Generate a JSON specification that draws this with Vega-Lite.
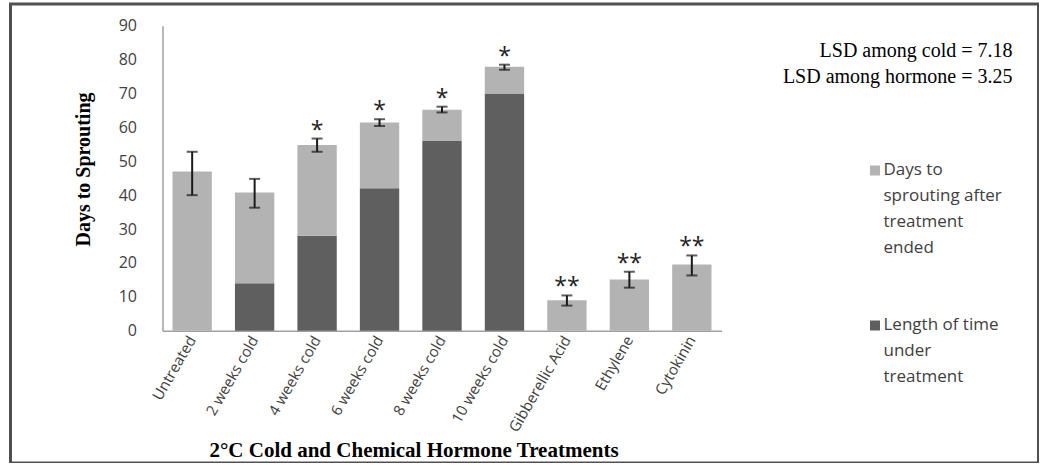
{
  "$schema": "https://vega.github.io/schema/vega-lite/v6.json",
  "width": 1028,
  "height": 459,
  "autosize": {"type": "none"},
  "padding": {"left": 10.5, "top": 4, "right": 0, "bottom": 0},
  "background": "white",
  "config": {
    "view": {"stroke": "#505050", "strokeWidth": 3},
    "axis": {"grid": false}
  },
  "title": {
    "text": ["LSD among cold = 7.18", "LSD among hormone = 3.25"],
    "orient": "top",
    "anchor": "end",
    "frame": "group",
    "align": "right",
    "offset": -83,
    "dx": -26,
    "font": "Liberation Serif",
    "fontSize": 20,
    "fontWeight": "normal",
    "color": "black",
    "lineHeight": 26
  },
  "datasets": {
    "bars": [
      {"treatment": "Untreated", "component": "Days to sprouting after treatment ended", "days": 47},
      {"treatment": "2 weeks cold", "component": "Length of time under treatment", "days": 14},
      {"treatment": "2 weeks cold", "component": "Days to sprouting after treatment ended", "days": 26.8},
      {"treatment": "4 weeks cold", "component": "Length of time under treatment", "days": 28},
      {"treatment": "4 weeks cold", "component": "Days to sprouting after treatment ended", "days": 26.8},
      {"treatment": "6 weeks cold", "component": "Length of time under treatment", "days": 42},
      {"treatment": "6 weeks cold", "component": "Days to sprouting after treatment ended", "days": 19.4},
      {"treatment": "8 weeks cold", "component": "Length of time under treatment", "days": 56},
      {"treatment": "8 weeks cold", "component": "Days to sprouting after treatment ended", "days": 9.2},
      {"treatment": "10 weeks cold", "component": "Length of time under treatment", "days": 70},
      {"treatment": "10 weeks cold", "component": "Days to sprouting after treatment ended", "days": 7.9},
      {"treatment": "Gibberellic Acid", "component": "Days to sprouting after treatment ended", "days": 9},
      {"treatment": "Ethylene", "component": "Days to sprouting after treatment ended", "days": 15.1},
      {"treatment": "Cytokinin", "component": "Days to sprouting after treatment ended", "days": 19.5}
    ],
    "summary": [
      {"treatment": "Untreated", "low": 40, "high": 52.8, "sig": ""},
      {"treatment": "2 weeks cold", "low": 36.3, "high": 44.8, "sig": ""},
      {"treatment": "4 weeks cold", "low": 52.8, "high": 56.7, "sig": "*"},
      {"treatment": "6 weeks cold", "low": 60.4, "high": 62.4, "sig": "*"},
      {"treatment": "8 weeks cold", "low": 64.4, "high": 66.1, "sig": "*"},
      {"treatment": "10 weeks cold", "low": 77, "high": 78.5, "sig": "*"},
      {"treatment": "Gibberellic Acid", "low": 7.4, "high": 10.4, "sig": "**"},
      {"treatment": "Ethylene", "low": 12.7, "high": 17.4, "sig": "**"},
      {"treatment": "Cytokinin", "low": 16.3, "high": 22.2, "sig": "**"}
    ]
  },
  "encoding": {
    "x": {
      "field": "treatment",
      "type": "nominal",
      "scale": {
        "domain": ["Untreated", "2 weeks cold", "4 weeks cold", "6 weeks cold", "8 weeks cold", "10 weeks cold", "Gibberellic Acid", "Ethylene", "Cytokinin"],
        "range": [152, 711],
        "paddingInner": 0.37,
        "paddingOuter": 0.16
      },
      "axis": {
        "orient": "bottom",
        "offset": -132.3,
        "title": "2°C Cold and Chemical Hormone Treatments",
        "titleFont": "Liberation Serif",
        "titleFontSize": 21,
        "titleFontWeight": "bold",
        "titleColor": "black",
        "titleX": 403,
        "titleY": 126,
        "titleBaseline": "alphabetic",
        "titleAlign": "center",
        "labelAngle": -60,
        "labelAlign": "right",
        "labelBaseline": "middle",
        "labelFont": "Open Sans",
        "labelFontSize": 15,
        "labelColor": "#404040",
        "labelPadding": 6,
        "ticks": false,
        "tickSize": 0,
        "domainColor": "#a0a0a0",
        "domainWidth": 1.5,
        "grid": false
      }
    }
  },
  "layer": [
    {
      "data": {"name": "bars"},
      "mark": {"type": "bar"},
      "encoding": {
        "y": {
          "field": "days",
          "type": "quantitative",
          "stack": "zero",
          "title": "Days to Sprouting",
          "scale": {"domain": [0, 90], "range": [326.7, 21.7], "nice": false},
          "axis": {
            "orient": "left",
            "offset": -152,
            "values": [0, 10, 20, 30, 40, 50, 60, 70, 80, 90],
            "title": "Days to Sprouting",
            "titleFont": "Liberation Serif",
            "titleFontSize": 20,
            "titleFontWeight": "bold",
            "titleColor": "black",
            "titleX": -73,
            "titleY": 165,
            "titleBaseline": "alphabetic",
            "titleAlign": "center",
            "labelFont": "Open Sans",
            "labelFontSize": 16,
            "labelColor": "#404040",
            "labelPadding": 26,
            "ticks": false,
            "tickSize": 0,
            "domainColor": "#a0a0a0",
            "domainWidth": 1.5,
            "grid": false
          }
        },
        "color": {
          "field": "component",
          "type": "nominal",
          "scale": {
            "domain": ["Days to sprouting after treatment ended", "Length of time under treatment"],
            "range": ["#b3b3b3", "#5f5f5f"]
          },
          "legend": {
            "orient": "none",
            "legendX": 856,
            "legendY": 158,
            "title": null,
            "padding": 0,
            "symbolType": "square",
            "symbolSize": 100,
            "symbolStrokeWidth": 0,
            "labelFont": "Open Sans",
            "labelFontSize": 17,
            "labelColor": "#404040",
            "labelOffset": 0,
            "labelLimit": 300,
            "labelBaseline": "top",
            "rowPadding": 59,
            "labelExpr": "datum.label == 'Days to sprouting after treatment ended' ? ['Days to', 'sprouting after', 'treatment', 'ended'] : ['Length of time', 'under', 'treatment']",
            "encode": {"labels": {"update": {"lineHeight": {"value": 26}, "dy": {"value": -9}}}}
          }
        },
        "order": {"field": "component", "sort": "descending"}
      }
    },
    {
      "data": {"name": "summary"},
      "mark": {"type": "errorbar", "ticks": true, "size": 11, "thickness": 2, "color": "#1a1a1a"},
      "encoding": {
        "y": {
          "field": "low",
          "type": "quantitative",
          "title": "Days to Sprouting",
          "scale": {"domain": [0, 90], "range": [326.7, 21.7], "nice": false}
        },
        "y2": {"field": "high"}
      }
    },
    {
      "data": {"name": "summary"},
      "mark": {"type": "text", "font": "Open Sans", "fontSize": 23, "baseline": "middle", "dy": -8, "color": "#222222"},
      "encoding": {
        "y": {
          "field": "high",
          "type": "quantitative",
          "title": "Days to Sprouting",
          "scale": {"domain": [0, 90], "range": [326.7, 21.7], "nice": false}
        },
        "text": {"field": "sig"}
      }
    }
  ]
}
